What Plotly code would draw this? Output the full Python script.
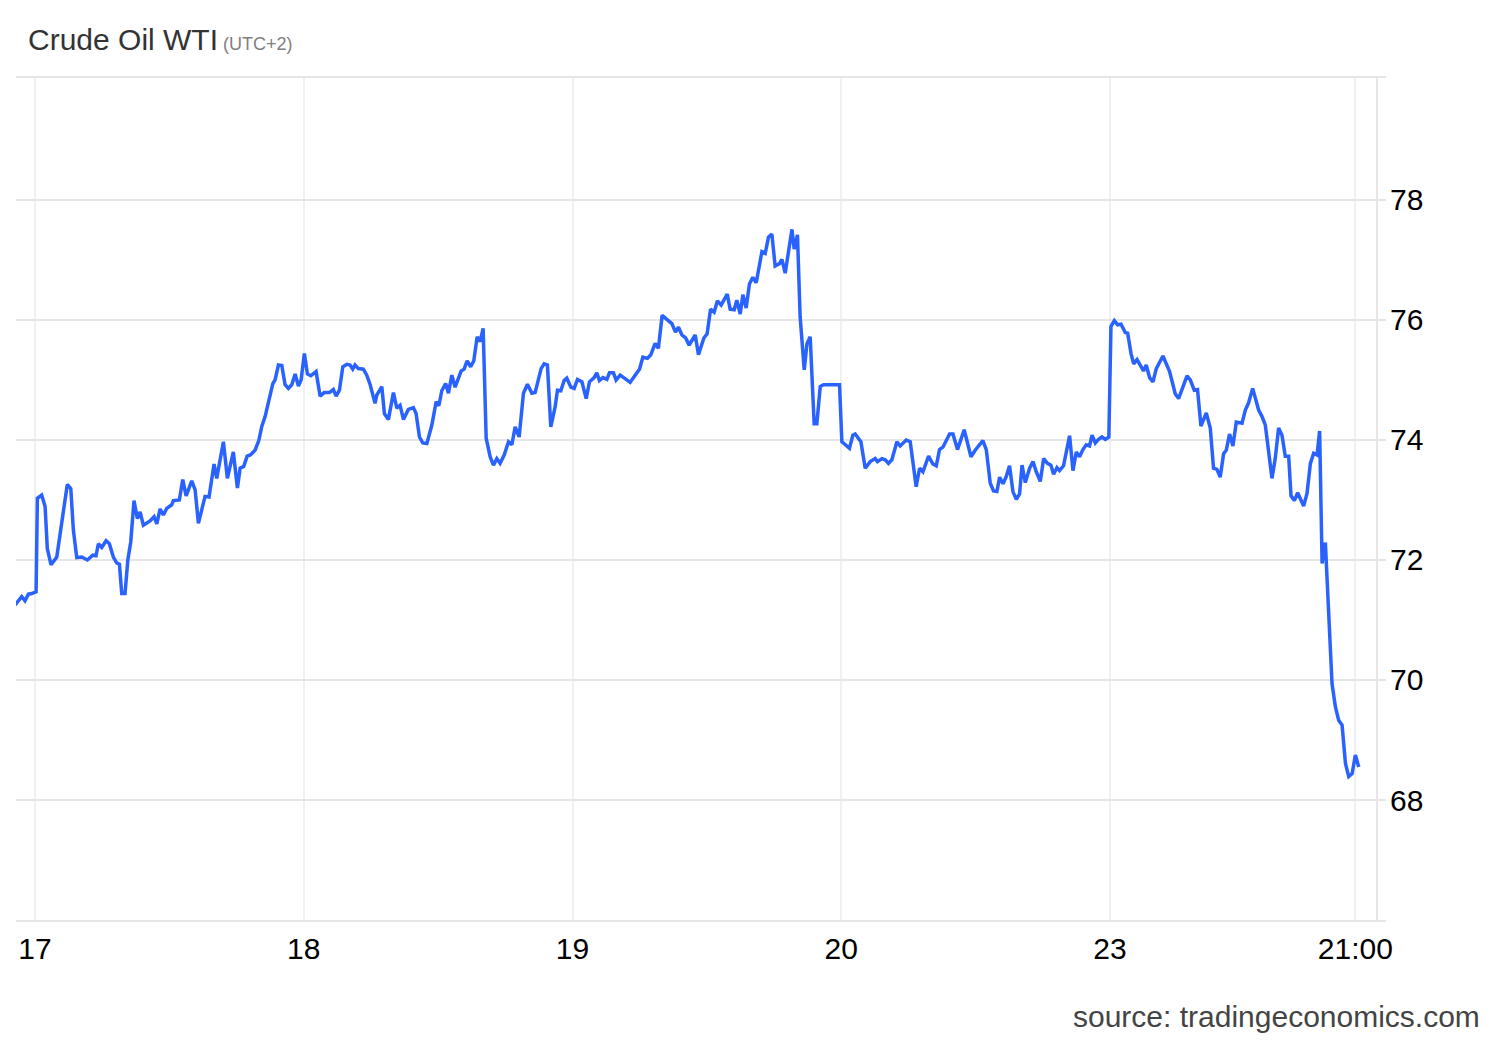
import plotly.graph_objects as go

# trading hours since the open of the 17th (x) and WTI price (y)
hours = [-1.71, -1.14, -0.86, -0.57, -0.28, 0.09, 0.20, 0.57, 0.86, 1.05, 1.37, 1.86, 2.76, 3.06, 3.28, 3.57, 4.00, 4.48, 4.94, 5.22, 5.42, 5.71, 6.08, 6.36, 6.70, 6.99, 7.22, 7.42, 7.70, 7.94, 8.19, 8.47, 8.76, 8.99, 9.27, 9.84, 10.19, 10.42, 10.70, 10.98, 11.27, 11.70, 11.84, 12.35, 12.64, 12.93, 13.41, 13.70, 13.98, 14.55, 14.89, 15.32, 15.55, 16.12, 16.46, 16.97, 17.32, 17.55, 17.86, 18.15, 18.43, 18.83, 19.15, 19.41, 19.69, 20.12, 20.35, 20.54, 20.83, 21.12, 21.40, 21.68, 21.97, 22.26, 22.54, 22.77, 23.05, 23.31, 23.60, 24.05, 24.40, 24.74, 25.19, 25.53, 25.77, 26.05, 26.34, 26.68, 26.96, 27.19, 27.39, 27.67, 28.10, 28.39, 28.68, 29.10, 29.25, 29.68, 29.90, 30.24, 30.67, 30.96, 31.24, 31.53, 31.95, 32.38, 32.61, 32.90, 33.19, 33.53, 33.96, 34.33, 34.56, 34.81, 35.14, 35.38, 35.67, 35.95, 36.47, 36.72, 36.98, 37.28, 37.55, 37.84, 38.09, 38.35, 38.61, 38.95, 39.23, 39.52, 39.80, 40.15, 40.52, 40.81, 41.09, 41.43, 41.80, 42.14, 42.52, 42.80, 43.31, 43.57, 43.85, 44.14, 44.51, 44.71, 45.00, 45.28, 45.51, 45.86, 46.14, 46.42, 46.80, 47.17, 47.45, 47.85, 48.08, 48.30, 48.60, 48.94, 49.16, 49.50, 49.73, 50.08, 50.65, 50.93, 51.36, 51.73, 52.02, 52.41, 52.70, 53.07, 53.35, 53.67, 54.07, 54.50, 54.81, 55.07, 55.36, 55.68, 55.98, 56.50, 56.78, 57.24, 57.52, 57.81, 58.12, 58.40, 58.72, 59.24, 59.49, 59.84, 60.06, 60.35, 60.58, 60.86, 61.14, 61.43, 61.72, 62.21, 62.49, 62.77, 63.06, 63.34, 63.71, 63.92, 64.20, 64.78, 64.97, 65.25, 65.48, 65.83, 66.06, 66.34, 66.68, 66.91, 67.20, 67.48, 68.85, 69.05, 69.70, 69.99, 70.19, 70.68, 71.05, 71.48, 71.90, 72.10, 72.48, 72.76, 73.04, 73.33, 73.76, 74.04, 74.56, 74.90, 75.41, 75.70, 75.99, 76.47, 76.84, 77.13, 77.41, 77.70, 78.27, 78.56, 78.95, 79.52, 80.10, 80.46, 81.12, 81.41, 81.75, 82.03, 82.32, 82.55, 82.84, 83.12, 83.40, 83.69, 83.98, 84.26, 84.47, 84.75, 85.12, 85.41, 85.69, 86.03, 86.32, 86.65, 86.94, 87.17, 87.46, 87.68, 88.02, 88.31, 88.54, 88.83, 89.11, 89.39, 89.68, 89.97, 90.25, 90.46, 90.74, 91.02, 91.31, 91.60, 91.90, 92.08, 92.37, 92.65, 92.94, 93.31, 93.51, 93.80, 94.02, 94.31, 94.59, 94.87, 95.10, 95.39, 95.68, 95.96, 96.53, 97.10, 97.58, 97.87, 98.59, 98.87, 99.21, 99.49, 99.78, 100.24, 100.58, 100.86, 101.15, 101.43, 101.72, 101.95, 102.23, 102.52, 102.81, 103.30, 103.58, 103.86, 104.21, 104.72, 105.01, 105.29, 105.86, 106.14, 106.43, 106.72, 107.00, 107.29, 107.49, 107.78, 108.06, 108.57, 108.86, 109.15, 109.43, 109.72, 109.94, 110.15, 110.43, 111.00, 111.29, 111.57, 111.86, 112.15, 112.43, 112.72, 113.00, 113.29]

price = [71.25, 71.39, 71.32, 71.43, 71.44, 71.47, 73.03, 73.08, 72.89, 72.19, 71.92, 72.05, 73.26, 73.19, 72.50, 72.04, 72.05, 72.00, 72.08, 72.07, 72.27, 72.21, 72.32, 72.27, 72.05, 71.95, 71.93, 71.44, 71.44, 72.00, 72.30, 72.99, 72.69, 72.80, 72.58, 72.65, 72.72, 72.60, 72.85, 72.75, 72.86, 72.92, 72.99, 73.00, 73.34, 73.07, 73.32, 73.17, 72.61, 73.06, 73.05, 73.60, 73.36, 73.97, 73.36, 73.80, 73.20, 73.53, 73.56, 73.73, 73.75, 73.83, 73.99, 74.23, 74.39, 74.72, 74.94, 75.00, 75.25, 75.24, 74.92, 74.86, 74.92, 75.10, 74.90, 75.00, 75.44, 75.10, 75.07, 75.14, 74.73, 74.79, 74.79, 74.84, 74.73, 74.83, 75.22, 75.26, 75.25, 75.18, 75.25, 75.19, 75.18, 75.08, 74.92, 74.61, 74.75, 74.89, 74.44, 74.34, 74.79, 74.53, 74.58, 74.34, 74.51, 74.54, 74.44, 74.05, 73.95, 73.94, 74.25, 74.64, 74.57, 74.82, 74.94, 74.78, 75.08, 74.88, 75.15, 75.18, 75.32, 75.22, 75.32, 75.72, 75.64, 75.86, 74.03, 73.72, 73.58, 73.69, 73.61, 73.75, 73.97, 73.92, 74.22, 74.05, 74.78, 74.93, 74.78, 74.79, 75.19, 75.27, 75.25, 74.22, 74.55, 74.83, 74.82, 74.99, 75.03, 74.88, 74.86, 75.01, 74.97, 74.69, 74.97, 75.04, 75.12, 74.99, 75.04, 75.01, 75.12, 75.12, 75.00, 75.08, 75.01, 74.96, 75.08, 75.18, 75.38, 75.36, 75.42, 75.61, 75.53, 76.08, 76.01, 75.94, 75.80, 75.88, 75.75, 75.70, 75.58, 75.75, 75.42, 75.70, 75.77, 76.18, 76.13, 76.32, 76.25, 76.43, 76.18, 76.17, 76.33, 76.10, 76.42, 76.20, 76.60, 76.71, 76.62, 77.14, 77.11, 77.38, 77.43, 76.90, 76.94, 77.01, 76.78, 77.51, 77.18, 77.42, 76.05, 75.17, 75.60, 75.72, 74.27, 74.27, 74.89, 74.92, 74.92, 73.97, 73.86, 74.08, 74.10, 73.97, 73.53, 73.64, 73.69, 73.64, 73.69, 73.67, 73.61, 73.67, 73.97, 73.90, 74.00, 73.97, 73.22, 73.53, 73.47, 73.73, 73.60, 73.57, 73.84, 73.88, 74.10, 74.10, 73.84, 74.17, 73.72, 73.83, 73.99, 73.84, 73.28, 73.15, 73.14, 73.38, 73.27, 73.39, 73.57, 73.14, 73.01, 73.10, 73.58, 73.29, 73.53, 73.64, 73.47, 73.31, 73.69, 73.61, 73.58, 73.43, 73.54, 73.49, 73.57, 73.86, 74.07, 73.49, 73.80, 73.72, 73.84, 73.92, 73.90, 74.08, 73.95, 74.01, 74.05, 74.01, 74.05, 75.89, 75.99, 75.92, 75.93, 75.79, 75.78, 75.44, 75.27, 75.34, 75.23, 75.15, 75.25, 75.04, 74.97, 75.19, 75.40, 75.14, 74.77, 74.69, 75.07, 75.00, 74.83, 74.84, 74.23, 74.45, 74.20, 73.53, 73.51, 73.38, 73.77, 73.83, 74.10, 73.90, 74.30, 74.28, 74.50, 74.62, 74.86, 74.50, 74.39, 74.25, 73.36, 73.69, 74.20, 74.08, 73.73, 73.73, 73.07, 72.99, 73.12, 72.90, 73.11, 73.61, 73.78, 73.75, 74.15, 71.94, 72.29, 69.94, 69.55, 69.33, 69.25, 68.61, 68.39, 68.44, 68.75, 68.55]

x_tick_vals = [0, 23, 46, 69, 92, 113]
x_tick_text = ["17", "18", "19", "20", "23", "21:00"]
y_tick_vals = [68, 70, 72, 74, 76, 78]

FONT = "Liberation Sans, Arial, sans-serif"
W, H = 1492, 1032  # page adds an 8px body margin

fig = go.Figure()
fig.add_trace(go.Scatter(
    x=hours, y=price, mode="lines",
    line=dict(color="#2962FF", width=3.5),
    hoverinfo="skip", showlegend=False,
))

fig.update_layout(
    width=W, height=H,
    margin=dict(l=8, r=114, t=70, b=120, pad=0),
    paper_bgcolor="white", plot_bgcolor="white",
    font=dict(family=FONT, size=30, color="#000000"),
    title=dict(
        text="Crude Oil WTI<span style='font-size:18px;color:#808080'> (UTC+2)</span>",
        x=20/W, xanchor="left", xref="container",
        y=1-31/H, yanchor="middle", yref="container",
        font=dict(family=FONT, size=30, color="#333333"),
    ),
    xaxis=dict(
        range=[-1.63, 115.62],
        tickmode="array", tickvals=x_tick_vals, ticktext=x_tick_text,
        showgrid=True, gridcolor="#edf0f5", gridwidth=2,
        showline=True, linecolor="#e6e6e6", linewidth=2, mirror=True,
        zeroline=False, ticks="", ticklabelstandoff=1,
        tickfont=dict(family=FONT, size=30, color="#000000"),
    ),
    yaxis=dict(
        range=[66, 80.033], side="right", anchor="free", position=(1369-8)/1370,
        tickmode="array", tickvals=y_tick_vals,
        showgrid=True, gridcolor="#e6e6e6", gridwidth=2,
        showline=True, linecolor="#e6e6e6", linewidth=2,
        zeroline=False, ticks="", ticklabelstandoff=6,
        tickfont=dict(family=FONT, size=30, color="#000000"),
    ),
    annotations=[dict(
        text="source: tradingeconomics.com",
        xref="paper", yref="paper",
        x=(1474-8)/1370, y=(912-1008)/842,
        xanchor="right", yanchor="middle", showarrow=False,
        font=dict(family=FONT, size=30, color="#444444"),
    )],
)

fig.write_html("out.html")
